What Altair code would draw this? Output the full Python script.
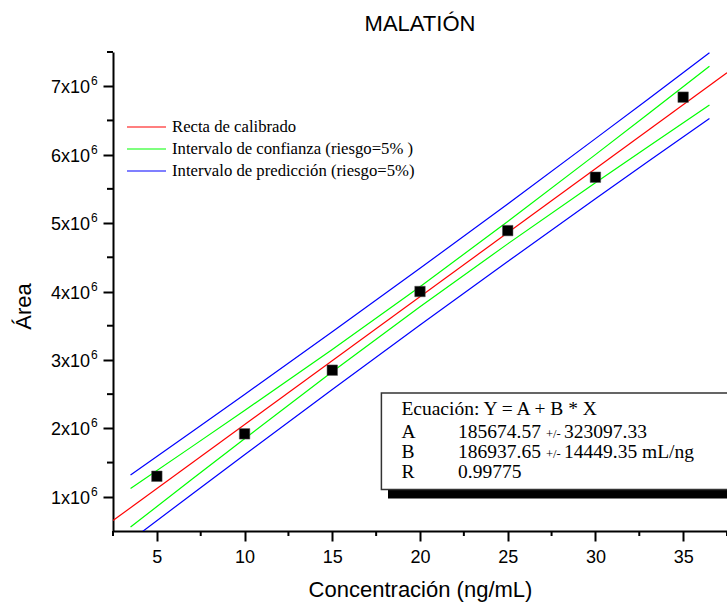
import altair as alt
import pandas as pd

# ---------------- data ----------------
conc = [5, 10, 15, 20, 25, 30, 35]
area = [1.30e6, 1.92e6, 2.85e6, 4.00e6, 4.89e6, 5.67e6, 6.84e6]

fit_x = [2.5, 37.5]
fit_y = [0.653e6, 7.196e6]

band_x = [3.5, 7, 10, 15, 20, 25, 30, 33, 36.5]
conf_upper = [1.122e6, 1.733e6, 2.261e6, 3.153e6, 4.070e6, 5.022e6, 6.000e6, 6.594e6, 7.291e6]
conf_lower = [0.558e6, 1.255e6, 1.849e6, 2.827e6, 3.778e6, 4.696e6, 5.588e6, 6.116e6, 6.727e6]
pred_upper = [1.320e6, 1.950e6, 2.495e6, 3.411e6, 4.339e6, 5.280e6, 6.234e6, 6.811e6, 7.489e6]
pred_lower = [0.360e6, 1.038e6, 1.615e6, 2.569e6, 3.509e6, 4.438e6, 5.354e6, 5.899e6, 6.529e6]

x_major = [5, 10, 15, 20, 25, 30, 35]
x_minor = [2.5, 7.5, 12.5, 17.5, 22.5, 27.5, 32.5, 37.5]
y_major = [1e6, 2e6, 3e6, 4e6, 5e6, 6e6, 7e6]
y_minor = [1.5e6, 2.5e6, 3.5e6, 4.5e6, 5.5e6, 6.5e6, 7.5e6]
y_tick_text = ["1x10", "2x10", "3x10", "4x10", "5x10", "6x10", "7x10"]
y_tick_exp = ["6", "6", "6", "6", "6", "6", "6"]

legend_labels = ["Recta de calibrado",
                 "Intervalo de confianza (riesgo=5% )",
                 "Intervalo de predicción (riesgo=5%)"]
legend_colors = ["#ff0000", "#00ff00", "#0000ff"]

box_names = ["Ecuación: Y = A + B * X", "A", "B", "R"]
box_values = ["", "185674.57", "186937.65", "0.99775"]
box_pm = ["", "+/-", "+/-", ""]
box_err = ["", "323097.33", "14449.35 mL/ng", ""]

title_text = "MALATIÓN"
x_title = "Concentración (ng/mL)"
y_title = "Área"

# ---------------- layout ----------------
W, H = 614, 479
SANS = "Liberation Sans"
SERIF = "Liberation Serif"

xs = alt.Scale(domain=[2.5, 37.5], nice=False, zero=False)
ys = alt.Scale(domain=[0.5e6, 7.5e6], nice=False, zero=False)

x_axis = alt.Axis(values=x_major, tickSize=10, tickWidth=2, tickColor="black",
                  domainColor="black", domainWidth=2, grid=False,
                  labelFont=SANS, labelFontSize=18, labelColor="black",
                  labelPadding=7, labelFlush=False,
                  title=x_title, titleFont=SANS, titleFontSize=22,
                  titleFontWeight="normal", titleColor="black",
                  titleY=58, titleBaseline="middle")
y_axis = alt.Axis(values=y_major, tickSize=10, tickWidth=2, tickColor="black",
                  domainColor="black", domainWidth=2, grid=False, labels=False,
                  title=y_title, titleFont=SANS, titleFontSize=22,
                  titleFontWeight="normal", titleColor="black",
                  titleX=-90, titleY=254, titleBaseline="middle", titleAlign="center")


def X(field):
    return alt.X(field, type="quantitative", scale=xs, axis=x_axis)


def Y(field):
    return alt.Y(field, type="quantitative", scale=ys, axis=y_axis)


# lines
rows = []
for x, y in zip(fit_x, fit_y):
    rows.append({"x": x, "y": y, "s": legend_labels[0], "k": "fit"})
for name, vals, ser in [("cu", conf_upper, legend_labels[1]), ("cl", conf_lower, legend_labels[1]),
                        ("pu", pred_upper, legend_labels[2]), ("pl", pred_lower, legend_labels[2])]:
    for x, y in zip(band_x, vals):
        rows.append({"x": x, "y": y, "s": ser, "k": name})
lines_df = pd.DataFrame(rows)

lines = alt.Chart(lines_df).mark_line(strokeWidth=1.2, clip=True).encode(
    x=X("x"), y=Y("y"),
    color=alt.Color("s:N", scale=alt.Scale(domain=legend_labels, range=legend_colors), legend=None),
    detail="k:N",
)

pts = alt.Chart(pd.DataFrame({"x": conc, "y": area})).mark_square(
    size=110, color="black", opacity=1, stroke="#555555", strokeWidth=0.5
).encode(x=X("x"), y=Y("y"))

# minor ticks
xminor = alt.Chart(pd.DataFrame({"x": x_minor})).mark_rule(color="black", strokeWidth=2).encode(
    x=X("x"), y=alt.value(H), y2=alt.value(H + 5))
yminor = alt.Chart(pd.DataFrame({"y": y_minor})).mark_rule(color="black", strokeWidth=2).encode(
    y=Y("y"), x=alt.value(0), x2=alt.value(-6))

# y tick labels with superscript
ylab_df = pd.DataFrame({"y": y_major, "t": y_tick_text, "e": y_tick_exp})
ylab = alt.Chart(ylab_df).mark_text(align="right", baseline="middle", font=SANS,
                                    fontSize=18, color="black", dy=2).encode(
    y=Y("y"), x=alt.value(-23), text="t:N")
yexp = alt.Chart(ylab_df).mark_text(align="left", baseline="middle", font=SANS,
                                    fontSize=12, color="black", dy=-5).encode(
    y=Y("y"), x=alt.value(-22), text="e:N")

layers = [lines, pts, xminor, yminor, ylab, yexp]

# manual legend
leg_y = [75, 97, 119]
for lab, col, yy in zip(legend_labels, legend_colors, leg_y):
    d = pd.DataFrame({"t": [lab]})
    layers.append(alt.Chart(d).mark_rule(color=col, strokeWidth=1.2).encode(
        x=alt.value(14), x2=alt.value(53), y=alt.value(yy)))
    layers.append(alt.Chart(d).mark_text(align="left", baseline="middle", font=SERIF,
                                         fontSize=16.7, color="black").encode(
        x=alt.value(59), y=alt.value(yy), text="t:N"))

# equation box
one = pd.DataFrame({"a": [0]})
layers.append(alt.Chart(one).mark_rect(color="black").encode(
    x=alt.value(275), x2=alt.value(660), y=alt.value(349), y2=alt.value(446.5)))
layers.append(alt.Chart(one).mark_rect(fill="white", stroke="#333333", strokeWidth=1.5).encode(
    x=alt.value(268.4), x2=alt.value(650), y=alt.value(341), y2=alt.value(437.5)))

box_y = [356.8, 380.3, 400.3, 419.8]
box_df = pd.DataFrame({"n": box_names, "v": box_values, "pm": box_pm, "err": box_err, "yy": box_y})
for i, r in box_df.iterrows():
    d = pd.DataFrame([r])
    layers.append(alt.Chart(d).mark_text(align="left", baseline="middle", font=SERIF,
                                         fontSize=19.5, color="black").encode(
        x=alt.value(288.4), y=alt.value(r["yy"]), text="n:N"))
    if r["v"]:
        layers.append(alt.Chart(d).mark_text(align="left", baseline="middle", font=SERIF,
                                             fontSize=19.5, color="black").encode(
            x=alt.value(345), y=alt.value(r["yy"]), text="v:N"))
    if r["pm"]:
        layers.append(alt.Chart(d).mark_text(align="left", baseline="middle", font=SERIF,
                                             fontSize=12.5, color="black", dy=2).encode(
            x=alt.value(433), y=alt.value(r["yy"]), text="pm:N"))
    if r["err"]:
        layers.append(alt.Chart(d).mark_text(align="left", baseline="middle", font=SERIF,
                                             fontSize=19.5, color="black").encode(
            x=alt.value(451), y=alt.value(r["yy"]), text="err:N"))

chart = alt.layer(*layers).properties(
    width=W, height=H,
    title=alt.Title(title_text, font=SANS, fontSize=22, fontWeight="normal",
                    color="black", anchor="middle", offset=15),
    autosize=alt.AutoSizeParams(type="none"),
    padding={"left": 113, "top": 52, "right": 0, "bottom": 71},
    background="white",
).configure_view(stroke=None)

chart.save("out.html", embed_options={"renderer": "svg", "actions": False})
